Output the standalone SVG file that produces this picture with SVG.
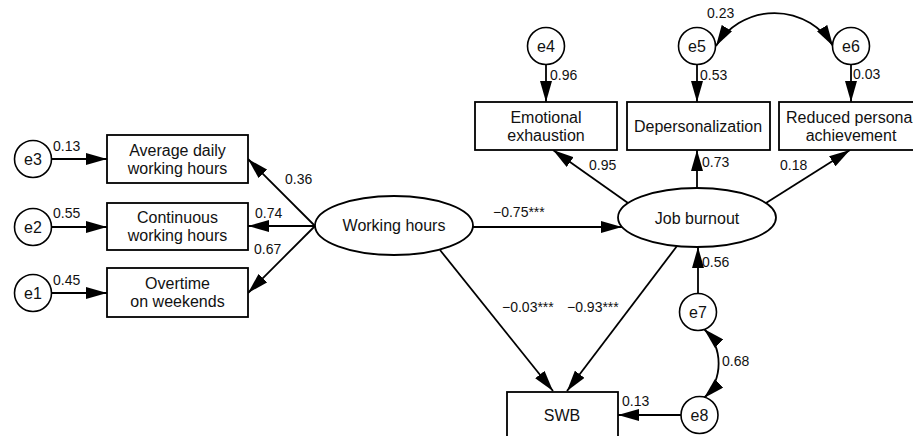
<svg xmlns="http://www.w3.org/2000/svg" width="913" height="436" viewBox="0 0 913 436">
<defs>
<marker id="ah" markerUnits="userSpaceOnUse" markerWidth="22" markerHeight="12" refX="21" refY="6" orient="auto-start-reverse">
<path d="M0,0 L21,6 L0,12 z" fill="#000"/>
</marker>
<style>
.box{fill:#fff;stroke:#000;stroke-width:1.8}
.ell{fill:#fff;stroke:#000;stroke-width:1.8}
.cir{fill:#fff;stroke:#000;stroke-width:1.6}
.t{font-family:"Liberation Sans",Arial,sans-serif;font-size:16px;fill:#111;text-anchor:middle}
.l{font-family:"Liberation Sans",Arial,sans-serif;font-size:14px;fill:#111}
.c{fill:none;stroke:#000;stroke-width:1.8;marker-end:url(#ah)}
.d{fill:none;stroke:#000;stroke-width:1.8;marker-start:url(#ah);marker-end:url(#ah)}
</style>
</defs>
<rect width="913" height="436" fill="#fff"/>
<g id="connectors">
<path class="c" d="M52,159 L107,159"/>
<path class="c" d="M52,227 L107,227"/>
<path class="c" d="M52,293 L107,293"/>
<path class="c" d="M315,226 L248,159"/>
<path class="c" d="M315,226 L248,226"/>
<path class="c" d="M315,226 L248,293"/>
<path class="c" d="M473,227 L622,227"/>
<path class="c" d="M440,250 L553,391"/>
<path class="c" d="M677,246 L567,391"/>
<path class="c" d="M628,203 L553,150"/>
<path class="c" d="M697,188 L697,150"/>
<path class="c" d="M766,203 L850,150"/>
<path class="c" d="M546,64 L546,102"/>
<path class="c" d="M697,65 L697,102"/>
<path class="c" d="M851,65 L851,102"/>
<path class="c" d="M698,294 L698,247"/>
<path class="c" d="M681,415 L618,415"/>
<path class="d" d="M716,46 A68.4,68.4 0 0 1 833,46"/>
<path class="d" d="M704,329 A48,48 0 0 1 704,398"/>
</g>
<g id="labels">
<text class="l" x="53" y="151">0.13</text>
<text class="l" x="53" y="218">0.55</text>
<text class="l" x="53" y="285">0.45</text>
<text class="l" x="285" y="184">0.36</text>
<text class="l" x="255" y="218">0.74</text>
<text class="l" x="254" y="254">0.67</text>
<text class="l" x="493" y="217">−0.75***</text>
<text class="l" x="502" y="312">−0.03***</text>
<text class="l" x="567" y="312">−0.93***</text>
<text class="l" x="589" y="170">0.95</text>
<text class="l" x="702" y="167">0.73</text>
<text class="l" x="780" y="170">0.18</text>
<text class="l" x="550" y="80">0.96</text>
<text class="l" x="700" y="80">0.53</text>
<text class="l" x="853" y="79">0.03</text>
<text class="l" x="707" y="18">0.23</text>
<text class="l" x="702" y="267">0.56</text>
<text class="l" x="722" y="366">0.68</text>
<text class="l" x="622" y="406">0.13</text>
</g>
<g id="e3"><circle class="cir" cx="33" cy="159" r="18.5"/><text class="t" x="33" y="165">e3</text></g>
<g id="e2"><circle class="cir" cx="33" cy="227" r="18.5"/><text class="t" x="33" y="233">e2</text></g>
<g id="e1"><circle class="cir" cx="33" cy="293" r="18.5"/><text class="t" x="33" y="299">e1</text></g>
<g id="avg"><rect class="box" x="107" y="135" width="141" height="48"/><text class="t" x="177.5" y="156">Average daily</text><text class="t" x="177.5" y="174">working hours</text></g>
<g id="cont"><rect class="box" x="107" y="203" width="141" height="47"/><text class="t" x="177.5" y="223">Continuous</text><text class="t" x="177.5" y="241">working hours</text></g>
<g id="over"><rect class="box" x="107" y="268" width="141" height="49"/><text class="t" x="177.5" y="289">Overtime</text><text class="t" x="177.5" y="307">on weekends</text></g>
<g id="wh"><ellipse class="ell" cx="394" cy="225.5" rx="79" ry="29.5"/><text class="t" x="394" y="231">Working hours</text></g>
<g id="jb"><ellipse class="ell" cx="697" cy="217.5" rx="79" ry="29.5"/><text class="t" x="697" y="224">Job burnout</text></g>
<g id="emo"><rect class="box" x="475" y="102" width="142" height="48"/><text class="t" x="546" y="123">Emotional</text><text class="t" x="546" y="141">exhaustion</text></g>
<g id="dep"><rect class="box" x="627" y="102" width="143" height="48"/><text class="t" x="698" y="132">Depersonalization</text></g>
<g id="red"><rect class="box" x="779" y="102" width="144" height="48"/><text class="t" x="851" y="123">Reduced personal</text><text class="t" x="851" y="141">achievement</text></g>
<g id="e4"><circle class="cir" cx="546" cy="46" r="18.5"/><text class="t" x="546" y="52">e4</text></g>
<g id="e5"><circle class="cir" cx="697" cy="46" r="18.5"/><text class="t" x="697" y="52">e5</text></g>
<g id="e6"><circle class="cir" cx="851" cy="46" r="18.5"/><text class="t" x="851" y="52">e6</text></g>
<g id="e7"><circle class="cir" cx="698" cy="312" r="18.5"/><text class="t" x="698" y="318">e7</text></g>
<g id="e8"><circle class="cir" cx="699.5" cy="415" r="18.5"/><text class="t" x="699.5" y="421">e8</text></g>
<g id="swb"><rect class="box" x="507" y="392" width="111" height="48"/><text class="t" x="562" y="421">SWB</text></g>
</svg>
